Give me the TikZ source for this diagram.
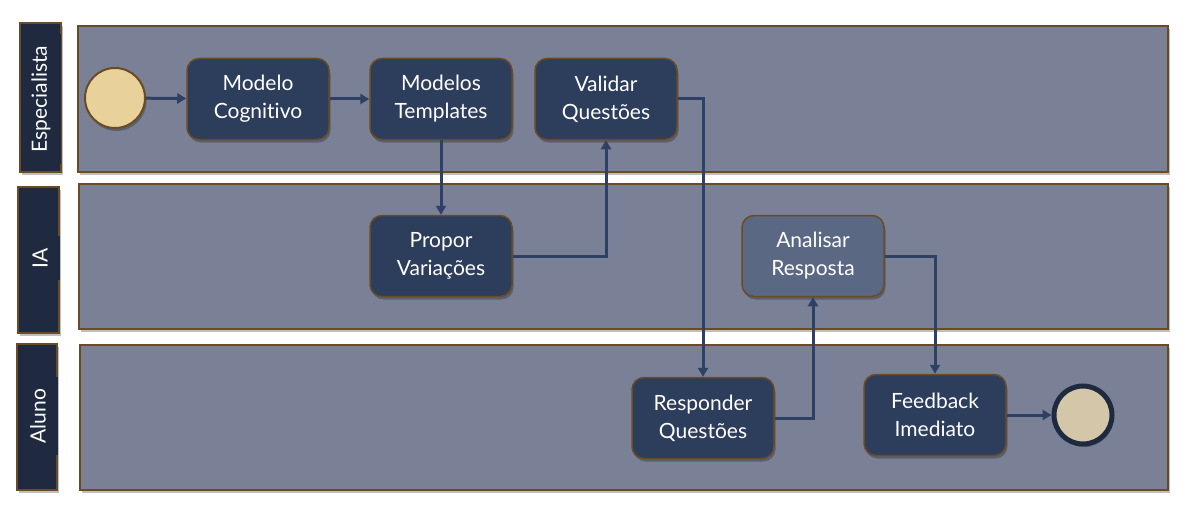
\documentclass[tikz,border=0pt]{standalone}
\usepackage{fontspec}
\setmainfont{Lato}[Ligatures=NoCommon]
\usetikzlibrary{shadows,arrows.meta}

\definecolor{navy}{HTML}{1F2A40}
\definecolor{boxblue}{HTML}{2D3D5C}
\definecolor{lanegray}{HTML}{7A8196}
\definecolor{brownline}{HTML}{6B4B22}
\definecolor{softblue}{HTML}{5B6883}
\definecolor{startfill}{HTML}{E9D19B}
\definecolor{endfill}{HTML}{D4C7A9}
\definecolor{flowline}{HTML}{2E4063}

\begin{document}
\begin{tikzpicture}[x=1pt,y=-1pt,
  softshadow/.style={drop shadow={shadow xshift=1.5pt,shadow yshift=-3pt,opacity=0.25,fill=black}},
  lane/.style={draw=brownline,line width=1.5pt,fill=lanegray,softshadow},
  lanebox/.style={draw=brownline,line width=1.5pt,fill=navy,inner sep=0pt,softshadow},
  lanetext/.style={fill=navy,text=white,rotate=90,inner xsep=12pt,minimum height=40pt,
    font=\fontsize{21}{24}\selectfont},
  task/.style={rectangle,rounded corners=12pt,draw=brownline,line width=1.5pt,fill=boxblue,
    text=white,minimum width=142pt,minimum height=81pt,align=center,
    font=\fontsize{21}{28}\selectfont,softshadow},
  flow/.style={draw=flowline,line width=3pt,-{Triangle[length=9pt,width=10pt]}}
]
% page size of the reference
\useasboundingbox[fill=white] (0,0) rectangle (1190,524);

% swim lanes
\draw[lane] (78,26) rectangle (1168,172);
\draw[lane] (79,184) rectangle (1168,329);
\draw[lane] (80,345) rectangle (1168,490);

% lane labels
\node[lanebox,minimum width=41pt,minimum height=149pt] (espBox) at (40.5,97.5) {};
\node[lanetext] (espText) at (41,99) {Especialista};
\node[lanebox,minimum width=41pt,minimum height=146pt] (iaBox) at (38.5,260) {};
\node[lanetext] (iaText) at (40,258) {IA};
\node[lanebox,minimum width=40pt,minimum height=146pt] (alunoBox) at (37,417) {};
\node[lanetext] (alunoText) at (38,416) {Aluno};

% start and end events
\node[circle,draw=brownline,line width=2pt,fill=startfill,minimum size=60pt,inner sep=0pt,softshadow]
  (start) at (115,98) {};
\node[circle,draw=navy,line width=5pt,fill=endfill,minimum size=58pt,inner sep=0pt,softshadow]
  (finish) at (1083,415) {};

% tasks
\node[task] (cog) at (258,99) {Modelo\\Cognitivo};
\node[task] (tpl) at (441,99) {Modelos\\Templates};
\node[task] (val) at (606,99) {Validar\\Questões};
\node[task] (var) at (441,256) {Propor\\Variações};
\node[task,fill=softblue] (ana) at (813,256) {Analisar\\Resposta};
\node[task] (resp) at (703,418) {Responder\\Questões};
\node[task] (fb) at (935,415) {Feedback\\Imediato};

% sequence flows
\draw[flow] (start) -- (cog);
\draw[flow] (cog) -- (tpl);
\draw[flow] (tpl) -- (var);
\draw[flow] (var.east) -| (val.south);
\draw[flow] (val.east) -| (resp.north);
\draw[flow] (resp.east) -| (ana.south);
\draw[flow] (ana.east) -| (fb.north);
\draw[flow] (fb) -- (finish);

\end{tikzpicture}
\end{document}
